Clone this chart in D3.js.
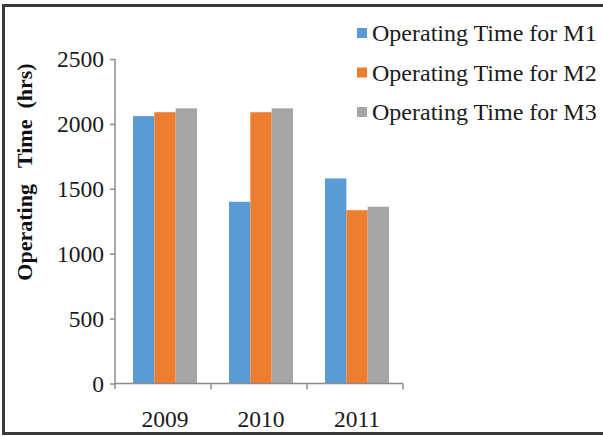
<!DOCTYPE html>
<html><head><meta charset="utf-8">
<script src="https://cdn.jsdelivr.net/npm/d3@7"></script>
<style>body{margin:0;background:#fff}svg{display:block}</style>
</head><body>
<svg id="c" width="603" height="436"></svg>
<script>
const years = ["2009", "2010", "2011"];
const seriesNames = ["Operating Time for M1", "Operating Time for M2", "Operating Time for M3"];
const m1 = [2060, 1400, 1580];
const m2 = [2090, 2090, 1335];
const m3 = [2120, 2120, 1362];
const yTicks = [0, 500, 1000, 1500, 2000, 2500];
const colors = ["#5B9BD5", "#ED7D31", "#A5A5A5"];
const yTitle = "Operating\u00A0\u00A0 Time\u00A0 (hrs)";

const values = [m1, m2, m3];
const svg = d3.select("#c");
const font = "'Liberation Serif','Times New Roman',serif";

// frame
svg.append("path")
  .attr("d", "M606,5.5H3.5V433.5H606")
  .attr("fill", "none").attr("stroke", "#3a3a3a").attr("stroke-width", 3);

const x0 = d3.scaleBand().domain(years).range([115, 403]).padding(0);
const groupW = x0.bandwidth() * 2 / 3;
const x1 = d3.scaleBand().domain(d3.range(3)).range([0, groupW]);
const y = d3.scaleLinear().domain([0, 2500]).range([383.5, 59]);

// bars
const g = svg.append("g");
years.forEach((yr, i) => {
  const gx = x0(yr) + (x0.bandwidth() - groupW) / 2 + 2;
  values.forEach((s, k) => {
    g.append("rect")
      .attr("x", gx + x1(k))
      .attr("y", y(s[i]))
      .attr("width", x1.bandwidth())
      .attr("height", y(0) - y(s[i]))
      .attr("fill", colors[k]);
  });
});

// y axis
const yAxis = svg.append("g").attr("transform", "translate(115,0)")
  .call(d3.axisLeft(y).tickValues(yTicks).tickSize(5).tickPadding(6).tickFormat(d3.format("d")));
yAxis.selectAll("path,line").attr("stroke", "#8c8c8c").attr("stroke-width", 1.5);
yAxis.select(".domain").attr("d", "M0,59V389");
yAxis.selectAll("text").attr("font-family", font).attr("font-size", 23.5).attr("fill", "#1a1a1a");

// x axis
const xAxis = svg.append("g").attr("transform", "translate(0,383.5)")
  .call(d3.axisBottom(x0).tickSize(0).tickPadding(27));
xAxis.select(".domain").attr("d", "M115,0H403").attr("stroke", "#8c8c8c").attr("stroke-width", 1.5);
xAxis.selectAll("text").attr("font-family", font).attr("font-size", 23.5).attr("fill", "#1a1a1a")
  .attr("dx", 2);
const bounds = years.map(d => x0(d)).concat([x0.range()[1]]);
xAxis.selectAll(".sep").data(bounds.slice(1)).enter().append("line")
  .attr("x1", d => d).attr("x2", d => d).attr("y1", 0).attr("y2", 6)
  .attr("stroke", "#8c8c8c").attr("stroke-width", 1.5);

// y title
svg.append("text")
  .attr("transform", "translate(32,172) rotate(-90)")
  .attr("text-anchor", "middle")
  .attr("font-family", font).attr("font-weight", "bold").attr("font-size", 22)
  .attr("fill", "#111")
  .text(yTitle);

// legend
const lg = svg.append("g");
seriesNames.forEach((name, k) => {
  const cy = 33 + k * 39.5;
  lg.append("rect").attr("x", 357).attr("y", cy - 5).attr("width", 10).attr("height", 10).attr("fill", colors[k]);
  lg.append("text").attr("x", 372).attr("y", cy + 8)
    .attr("font-family", font).attr("font-size", 24).attr("fill", "#1a1a1a")
    .text(name);
});
</script>
</body></html>
